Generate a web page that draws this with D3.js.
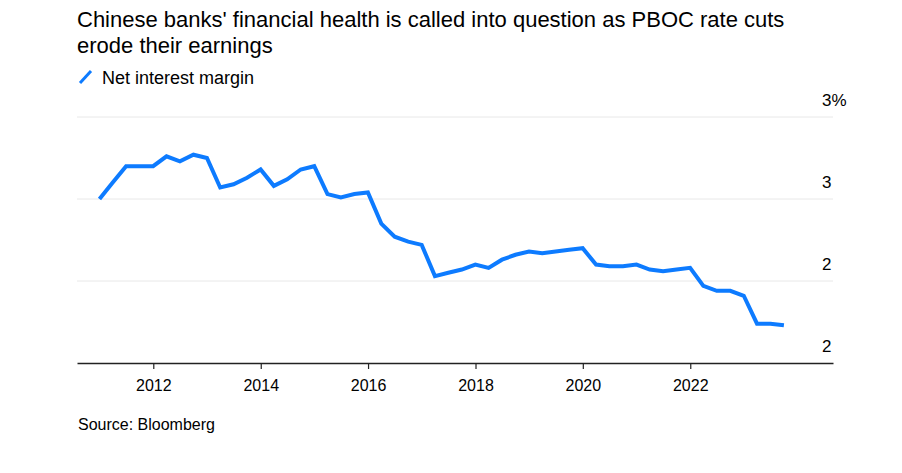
<!DOCTYPE html>
<html>
<head>
<meta charset="utf-8">
<script src="https://cdn.jsdelivr.net/npm/d3@7"></script>
<style>
  body { margin: 0; background: #fff; }
  svg { display: block; font-family: "Liberation Sans", Arial, sans-serif; }
</style>
</head>
<body>
<svg id="chart" width="902" height="473"></svg>
<script>
// Quarter-end dates, 2010 Q4 through 2023 Q3
const quarters = [
  "2010-12-31",
  "2011-03-31","2011-06-30","2011-09-30","2011-12-31",
  "2012-03-31","2012-06-30","2012-09-30","2012-12-31",
  "2013-03-31","2013-06-30","2013-09-30","2013-12-31",
  "2014-03-31","2014-06-30","2014-09-30","2014-12-31",
  "2015-03-31","2015-06-30","2015-09-30","2015-12-31",
  "2016-03-31","2016-06-30","2016-09-30","2016-12-31",
  "2017-03-31","2017-06-30","2017-09-30","2017-12-31",
  "2018-03-31","2018-06-30","2018-09-30","2018-12-31",
  "2019-03-31","2019-06-30","2019-09-30","2019-12-31",
  "2020-03-31","2020-06-30","2020-09-30","2020-12-31",
  "2021-03-31","2021-06-30","2021-09-30","2021-12-31",
  "2022-03-31","2022-06-30","2022-09-30","2022-12-31",
  "2023-03-31","2023-06-30","2023-09-30"
];
// Net interest margin, %
const netInterestMargin = [
  2.50,
  2.60, 2.70, 2.70, 2.70,
  2.76, 2.73, 2.77, 2.75,
  2.57, 2.59, 2.63, 2.68,
  2.58, 2.62, 2.68, 2.70,
  2.53, 2.51, 2.53, 2.54,
  2.35, 2.27, 2.24, 2.22,
  2.03, 2.05, 2.07, 2.10,
  2.08, 2.13, 2.16, 2.18,
  2.17, 2.18, 2.19, 2.20,
  2.10, 2.09, 2.09, 2.10,
  2.07, 2.06, 2.07, 2.08,
  1.97, 1.94, 1.94, 1.91,
  1.74, 1.74, 1.73
];
const xTickYears = [2012, 2014, 2016, 2018, 2020, 2022];
const yTicks = [1.5, 2.0, 2.5, 3.0];
const yTickLabels = ["2", "2", "3", "3%"];
const titleLines = [
  "Chinese banks' financial health is called into question as PBOC rate cuts",
  "erode their earnings"
];
const legendLabel = "Net interest margin";
const sourceText = "Source: Bloomberg";

const parse = d3.timeParse("%Y-%m-%d");
const data = quarters.map((q, i) => ({ date: parse(q), value: netInterestMargin[i] }));

const svg = d3.select("#chart");
const plotLeft = 77, plotRight = 833, plotTop = 117, plotBottom = 363;
const blue = "#0d7bff";

const x = d3.scaleTime()
  .domain([new Date(2010, 6, 31), new Date(2024, 7, 29)])
  .range([plotLeft, plotRight]);
const y = d3.scaleLinear().domain([1.5, 3.0]).range([plotBottom, plotTop]);

// Title
svg.append("g").selectAll("text").data(titleLines).join("text")
  .attr("x", 77).attr("y", (d, i) => 27 + i * 26)
  .attr("font-size", 22).attr("fill", "#000")
  .text(d => d);

// Legend
svg.append("line")
  .attr("x1", 80).attr("y1", 83).attr("x2", 91).attr("y2", 71)
  .attr("stroke", blue).attr("stroke-width", 3);
svg.append("text").attr("x", 102).attr("y", 83.5)
  .attr("font-size", 18).attr("fill", "#000").text(legendLabel);

// Gridlines
svg.append("g").selectAll("line").data(yTicks.filter(v => v !== 1.5)).join("line")
  .attr("x1", plotLeft).attr("x2", plotRight)
  .attr("y1", d => y(d)).attr("y2", d => y(d))
  .attr("stroke", "#e8e8e8").attr("stroke-width", 1);

// Y labels
svg.append("g").selectAll("text").data(yTicks).join("text")
  .attr("x", 822).attr("y", d => y(d) - 11)
  .attr("font-size", 17).attr("fill", "#000")
  .text((d, i) => yTickLabels[i]);

// X axis
const xAxis = d3.axisBottom(x)
  .tickValues(xTickYears.map(yr => new Date(yr, 0, 1)))
  .tickFormat(d3.timeFormat("%Y"))
  .tickSize(6).tickSizeOuter(0).tickPadding(11);
const gx = svg.append("g").attr("transform", `translate(0,${plotBottom})`).call(xAxis);
gx.select(".domain").attr("stroke", "#222").attr("stroke-width", 1.5);
gx.selectAll(".tick line").attr("stroke", "#222").attr("stroke-width", 1.2);
gx.selectAll(".tick text").attr("font-size", 16).attr("fill", "#000")
  .attr("font-family", "'Liberation Sans', Arial, sans-serif");

// Line
const line = d3.line().x(d => x(d.date)).y(d => y(d.value));
svg.append("path").datum(data)
  .attr("d", line)
  .attr("fill", "none")
  .attr("stroke", blue)
  .attr("stroke-width", 4)
  .attr("stroke-linejoin", "miter")
  .attr("stroke-linecap", "butt");

// Source
svg.append("text").attr("x", 78).attr("y", 430)
  .attr("font-size", 16).attr("fill", "#000").text(sourceText);
</script>
</body>
</html>
